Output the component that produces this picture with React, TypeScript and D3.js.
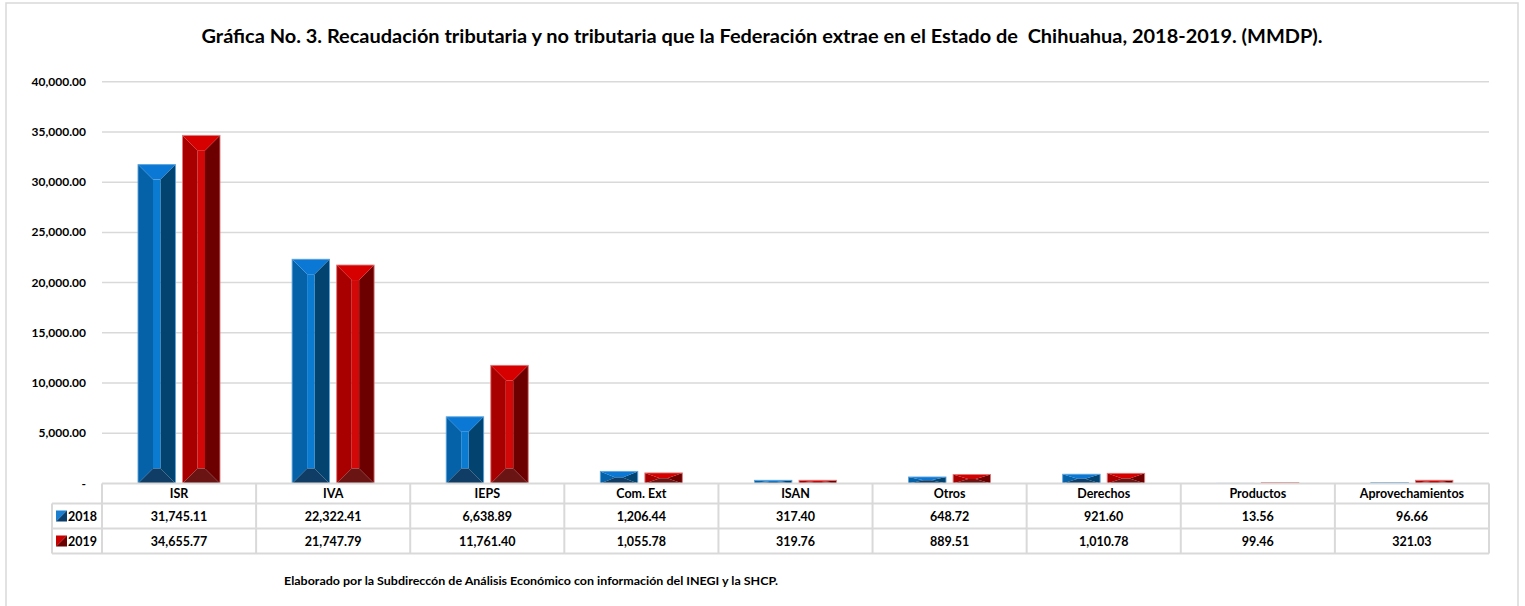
import React from 'react';
import * as d3 from 'd3';

const categories = ['ISR', 'IVA', 'IEPS', 'Com. Ext', 'ISAN', 'Otros', 'Derechos', 'Productos', 'Aprovechamientos'];
const values2018 = [31745.11, 22322.41, 6638.89, 1206.44, 317.4, 648.72, 921.6, 13.56, 96.66];
const values2019 = [34655.77, 21747.79, 11761.4, 1055.78, 319.76, 889.51, 1010.78, 99.46, 321.03];
const years = ['2018', '2019'];
const yTicks = [0, 5000, 10000, 15000, 20000, 25000, 30000, 35000, 40000];

const TITLE = 'Gráfica No. 3. Recaudación tributaria y no tributaria que la Federación extrae en el Estado de  Chihuahua, 2018-2019. (MMDP).';
const FOOTNOTE = 'Elaborado por la Subdireccón de Análisis Económico con información del INEGI y la SHCP.';

const W = 1525;
const H = 606;
const FONT = 'Lato, "Open Sans", sans-serif';

const palettes: Record<string, { top: string; left: string; center: string; right: string; bottom: string; stroke: string; keyLight: string; keyDark: string }> = {
  '2018': { top: '#0A78D4', left: '#0562A8', center: '#0B7BD2', right: '#03436F', bottom: '#0F3D66', stroke: '#5EA3DC', keyLight: '#1A7FD0', keyDark: '#0A3D6A' },
  '2019': { top: '#D60000', left: '#A80000', center: '#D20808', right: '#6C0000', bottom: '#6A1414', stroke: '#E27878', keyLight: '#C80000', keyDark: '#6A0000' },
};

const fmt = d3.format(',.2f');

function bevelBar(x0: number, x1: number, yTop: number, yBot: number, p: typeof palettes['2018'], key: string) {
  const h = Math.max(0, yBot - yTop);
  const dx = Math.min(15, (x1 - x0) / 2 - 3);
  const dy = Math.min(15, h / 2);
  const ix0 = x0 + dx, ix1 = x1 - dx, iy0 = yTop + dy, iy1 = yBot - dy;
  const poly = (pts: number[][]) => 'M' + pts.map((q) => q.join(',')).join('L') + 'Z';
  return (
    <g key={key}>
      <path d={poly([[x0, yTop], [ix0, iy0], [ix0, iy1], [x0, yBot]])} fill={p.left} />
      <path d={poly([[x1, yTop], [x1, yBot], [ix1, iy1], [ix1, iy0]])} fill={p.right} />
      {iy1 > iy0 && <rect x={ix0} y={iy0} width={ix1 - ix0} height={iy1 - iy0} fill={p.center} />}
      <path d={poly([[x0, yTop], [x1, yTop], [ix1, iy0], [ix0, iy0]])} fill={p.top} />
      <path d={poly([[x0, yBot], [ix0, iy1], [ix1, iy1], [x1, yBot]])} fill={p.bottom} />
      <rect x={x0} y={yTop} width={x1 - x0} height={h} fill="none" stroke={p.stroke} strokeWidth={0.9} />
    </g>
  );
}

export default function App() {
  const plotLeft = 102;
  const plotRight = 1489;
  const yScale = d3.scaleLinear().domain([0, 40000]).range([483.5, 81.7]);
  const x = d3.scaleBand<string>().domain(categories).range([plotLeft, plotRight]).padding(0);
  const xSub = d3.scaleBand<string>().domain(years).range([36, 118]).paddingInner(0.16);
  const series: Record<string, number[]> = { '2018': values2018, '2019': values2019 };

  const tableTop = 483.5;
  const rowH = [20, 25, 25];
  const rowY = [tableTop, tableTop + rowH[0], tableTop + rowH[0] + rowH[1], tableTop + rowH[0] + rowH[1] + rowH[2]];
  const legendLeft = 52;
  const gridColor = '#D9D9D9';

  return (
    <svg width={W} height={H} style={{ position: 'absolute', left: 0, top: 0, background: '#fff' }} fontFamily={FONT}>
      <rect x={0} y={0} width={W} height={H} fill="#fff" />
      <rect x={6} y={3} width={1512} height={640} fill="none" stroke={gridColor} strokeWidth={1.5} />
      <text x={762} y={43} textAnchor="middle" fontSize={19.5} fontWeight={700} fill="#000" textLength={1121} lengthAdjust="spacingAndGlyphs" style={{ whiteSpace: 'pre' }}>{TITLE}</text>

      {yTicks.map((t) => (
        <g key={t}>
          {t > 0 && <line x1={plotLeft} x2={plotRight} y1={yScale(t)} y2={yScale(t)} stroke={gridColor} strokeWidth={1.5} />}
          <text x={86} y={yScale(t) + 4} textAnchor="end" fontSize={12} fontWeight={700} fill="#000">{t === 0 ? '-' : fmt(t)}</text>
        </g>
      ))}

      {categories.map((c, i) =>
        years.map((yr) => {
          const x0 = (x(c) as number) + (xSub(yr) as number);
          const x1 = x0 + xSub.bandwidth();
          return bevelBar(x0, x1, yScale(series[yr][i]), yScale(0), palettes[yr], c + yr);
        })
      )}

      {/* data table */}
      <g stroke={gridColor} strokeWidth={2} fill="none">
        <line x1={plotLeft} x2={plotRight} y1={rowY[0]} y2={rowY[0]} />
        {rowY.slice(1).map((yy, i) => (
          <line key={i} x1={legendLeft} x2={plotRight} y1={yy} y2={yy} />
        ))}
        <line x1={legendLeft} x2={legendLeft} y1={rowY[1]} y2={rowY[3]} />
        {categories.map((c) => (
          <line key={c} x1={x(c) as number} x2={x(c) as number} y1={rowY[0]} y2={rowY[3]} />
        ))}
        <line x1={plotRight} x2={plotRight} y1={rowY[0]} y2={rowY[3]} />
      </g>
      {categories.map((c, i) => {
        const cx = (x(c) as number) + x.bandwidth() / 2;
        return (
          <g key={c} fontSize={12.5} fontWeight={700} textAnchor="middle" fill="#000">
            <text x={cx} y={rowY[0] + 14.5}>{c}</text>
            <text x={cx} y={rowY[1] + 17}>{fmt(values2018[i])}</text>
            <text x={cx} y={rowY[2] + 17}>{fmt(values2019[i])}</text>
          </g>
        );
      })}
      {years.map((yr, k) => {
        const p = palettes[yr];
        const ky = rowY[k + 1] + 7;
        const kx = 56;
        const s = 11;
        return (
          <g key={yr}>
            <path d={`M${kx},${ky}L${kx + s},${ky}L${kx},${ky + s}Z`} fill={p.keyLight} />
            <path d={`M${kx + s},${ky}L${kx + s},${ky + s}L${kx},${ky + s}Z`} fill={p.keyDark} />
            <text x={68} y={rowY[k + 1] + 17} fontSize={12.5} fontWeight={700} fill="#000">{yr}</text>
          </g>
        );
      })}

      <text x={284} y={585} fontSize={11.5} fontWeight={700} fill="#000" textLength={494} lengthAdjust="spacingAndGlyphs">{FOOTNOTE}</text>
    </svg>
  );
}
